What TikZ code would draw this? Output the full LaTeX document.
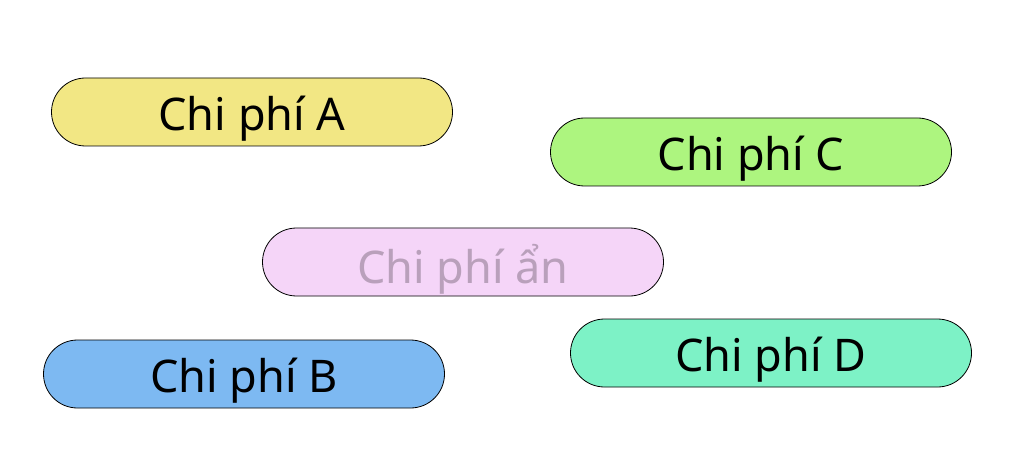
\documentclass[tikz,border=0pt]{standalone}
\usepackage{fontspec}
\setmainfont{Noto Sans}
\begin{document}
\begin{tikzpicture}[x=1pt,y=-1pt,
 pill/.style={draw=black,line width=0.8pt,rounded corners=34pt,minimum width=401pt,minimum height=68pt,inner sep=0pt},
 lbl/.style={font=\fontsize{45}{48}\selectfont,inner sep=0pt,yshift=-7pt}]
\useasboundingbox (0,0) rectangle (1024,470);
\node[pill,fill={rgb,255:red,242;green,231;blue,132}] (a) at (252,112) {};
\node[lbl] (ta) at (a) {Chi phí A};
\node[pill,fill={rgb,255:red,173;green,245;blue,127}] (c) at (751,152) {};
\node[lbl] (tc) at (c) {Chi phí C};
\node[pill,fill={rgb,255:red,245;green,213;blue,248}] (h) at (463,262) {};
\node[lbl,text={rgb,255:red,185;green,160;blue,187}] (th) at (h) {Chi phí ẩn};
\node[pill,fill={rgb,255:red,125;green,185;blue,242}] (b) at (244,374) {};
\node[lbl] (tb) at (b) {Chi phí B};
\node[pill,fill={rgb,255:red,125;green,242;blue,198}] (d) at (771,353) {};
\node[lbl] (td) at (d) {Chi phí D};
\end{tikzpicture}
\end{document}
